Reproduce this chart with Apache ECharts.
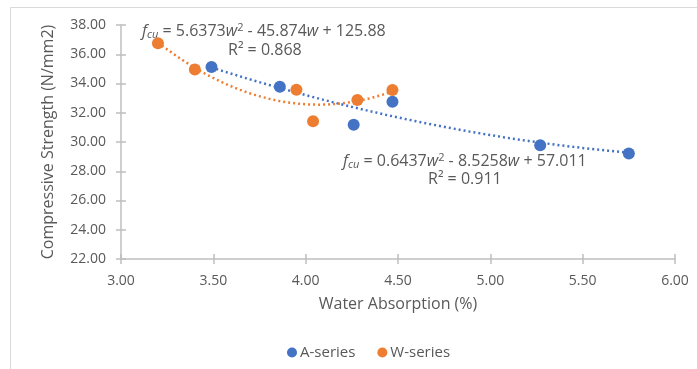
<!DOCTYPE html>
<html><head><meta charset="utf-8">
<script src="https://cdn.jsdelivr.net/npm/echarts@6/dist/echarts.min.js"></script>
<style>html,body{margin:0;padding:0;background:#fff}#c{width:697px;height:369px}</style>
</head><body><div id="c"></div>
<script>
// Data
const aX = [3.49, 3.86, 4.26, 4.47, 5.27, 5.75];
const aY = [35.13, 33.78, 31.18, 32.75, 29.78, 29.22];
const wX = [3.20, 3.40, 3.95, 4.04, 4.28, 4.47];
const wY = [36.75, 34.95, 33.58, 31.42, 32.87, 33.55];
// Trendline coefficients printed on the chart [a, b, c] for a*w^2 + b*w + c
const aCoef = [0.6437, -8.5258, 57.011];
const wCoef = [5.6373, -45.874, 125.88];
const xTicks = ['3.00','3.50','4.00','4.50','5.00','5.50','6.00'];
const yTicks = ['22.00','24.00','26.00','28.00','30.00','32.00','34.00','36.00','38.00'];

function trend(coef, xs) {
  const lo = Math.min(...xs), hi = Math.max(...xs), out = [];
  const n = 60;
  for (let i = 0; i <= n; i++) {
    const w = lo + (hi - lo) * i / n;
    out.push([w, coef[0]*w*w + coef[1]*w + coef[2]]);
  }
  return out;
}
const BLUE = '#4472C4', ORANGE = '#ED7D31', GREY = '#595959', AX = '#BFBFBF';
const FONT = 'Open Sans';
const chart = echarts.init(document.getElementById('c'), null, {renderer: 'canvas'});
const xBase = {type:'value', min:3, max:6, interval:0.5, position:'bottom'};
const yBase = {type:'value', min:22, max:38, interval:2, position:'left'};
const eqRich = {i:{fontStyle:'italic', fontSize:16, fontFamily:FONT, fill:GREY},
  s:{fontStyle:'italic', fontSize:11, fontFamily:FONT, fill:GREY, padding:[7,0,0,0]},
  sup:{fontSize:11, fontFamily:FONT, fill:GREY, padding:[0,0,7,0]}};
chart.setOption({
  animation:false,
  grid:{left:121, right:22, top:25, bottom:110},
  legend:{top:340, left:282, itemWidth:10, itemHeight:10, itemGap:22,
    textStyle:{color:GREY, fontSize:15, fontFamily:FONT, padding:[0,0,0,-2]},
    data:[{name:'A-series', icon:'circle'},{name:'W-series', icon:'circle'}]},
  xAxis:[Object.assign({}, xBase, {
      name:'Water Absorption (%)', nameLocation:'middle', nameGap:37,
      nameTextStyle:{color:GREY, fontSize:16, fontFamily:FONT},
      axisLine:{lineStyle:{color:AX, width:1.5}}, splitLine:{show:false},
      axisTick:{show:true, length:5, lineStyle:{color:AX, width:1.5}},
      axisLabel:{color:GREY, fontSize:14, fontFamily:FONT, margin:15,
        formatter:(v)=>xTicks[Math.round((v-3)/0.5)]}}),
    Object.assign({}, xBase, {axisLine:{show:false}, splitLine:{show:false}, axisLabel:{show:false},
      axisTick:{show:true, inside:true, length:5, lineStyle:{color:AX, width:1.5}}})],
  yAxis:[Object.assign({}, yBase, {
      name:'Compressive Strength (N/mm2)', nameLocation:'middle', nameGap:65, nameRotate:90,
      nameTextStyle:{color:GREY, fontSize:16, fontFamily:FONT},
      axisLine:{show:true, lineStyle:{color:AX, width:1.5}}, splitLine:{show:false},
      axisTick:{show:true, length:5, lineStyle:{color:AX, width:1.5}},
      axisLabel:{color:GREY, fontSize:14, fontFamily:FONT, margin:15,
        formatter:(v)=>yTicks[Math.round((v-22)/2)]}}),
    Object.assign({}, yBase, {axisLine:{show:false}, splitLine:{show:false}, axisLabel:{show:false},
      axisTick:{show:true, inside:true, length:5, lineStyle:{color:AX, width:1.5}}})],
  series:[
    {name:'A-series trend', type:'line', data:trend(aCoef, aX), showSymbol:false, smooth:false,
      lineStyle:{color:BLUE, width:2.5, type:[2,3]}, silent:true, z:1},
    {name:'W-series trend', type:'line', data:trend(wCoef, wX), showSymbol:false, smooth:false,
      lineStyle:{color:ORANGE, width:2.5, type:[2,3]}, silent:true, z:1},
    {name:'A-series', type:'scatter', symbolSize:12, itemStyle:{color:BLUE, opacity:1},
      data:aX.map((x,i)=>[x,aY[i]]), z:3},
    {name:'W-series', type:'scatter', symbolSize:12, itemStyle:{color:ORANGE, opacity:1},
      data:wX.map((x,i)=>[x,wY[i]]), z:3}
  ],
  graphic:[
    {type:'rect', shape:{x:10.5, y:7.5, width:700, height:400}, style:{fill:'none', stroke:'#D9D9D9', lineWidth:1}, silent:true},
    {type:'text', left:142, top:22, style:{
      text:'{i|f}{s|cu} = 5.6373{i|w}{sup|2} - 45.874{i|w} + 125.88',
      fill:GREY, fontSize:16, fontFamily:FONT, rich:eqRich}},
    {type:'text', left:228, top:42, style:{text:'R² = 0.868', fill:GREY, fontSize:16, fontFamily:FONT}},
    {type:'text', left:343, top:152, style:{
      text:'{i|f}{s|cu} = 0.6437{i|w}{sup|2} - 8.5258{i|w} + 57.011',
      fill:GREY, fontSize:16, fontFamily:FONT, rich:eqRich}},
    {type:'text', left:428, top:171, style:{text:'R² = 0.911', fill:GREY, fontSize:16, fontFamily:FONT}}
  ]
});
</script></body></html>
